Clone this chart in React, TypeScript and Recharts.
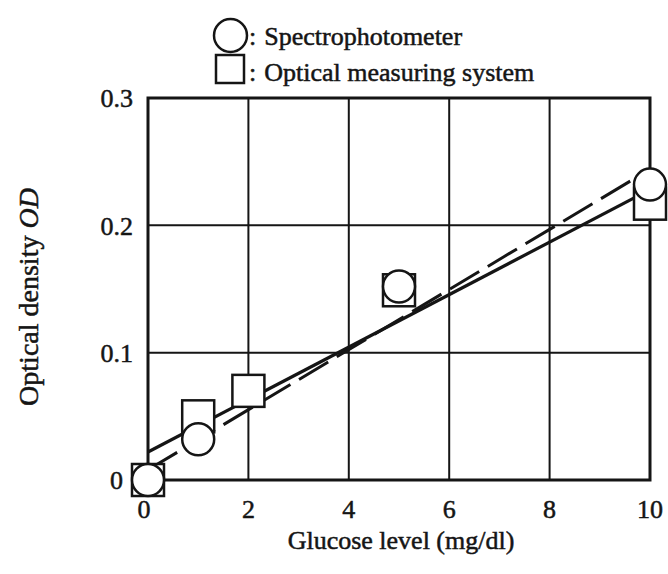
import React from 'react';
import {
  ComposedChart, Line, Scatter, XAxis, YAxis, CartesianGrid, ReferenceArea, Legend,
} from 'recharts';

// ---- data ----
const spectroGlucose = [0, 1, 5, 10];
const spectroOD = [0, 0.032, 0.152, 0.232];
const opticalGlucose = [0, 1, 2, 5, 10];
const opticalOD = [0, 0.05, 0.07, 0.149, 0.217];
const fitGlucose = [0, 10];
const solidFitOD = [0.022, 0.228];
const dashedFitOD = [0.008, 0.244];
const xTicks = [0, 2, 4, 6, 8, 10];
const yTicks = [0, 0.1, 0.2, 0.3];
const legendLabels = ['Spectrophotometer', 'Optical measuring system'];
const xTitle = 'Glucose level (mg/dl)';
const yTitle = 'Optical density ';
const yTitleItalic = 'OD';

const spectroData = spectroGlucose.map((x, i) => ({ x, y: spectroOD[i] }));
const opticalData = opticalGlucose.map((x, i) => ({ x, y: opticalOD[i] }));
const solidFit = fitGlucose.map((x, i) => ({ x, y: solidFitOD[i] }));
const dashedFit = fitGlucose.map((x, i) => ({ x, y: dashedFitOD[i] }));

const FONT = '"Liberation Serif", "Times New Roman", serif';
const INK = '#151515';
const TXT = { stroke: INK, strokeWidth: 0.5 };

const CircleMark = (p: any) => (
  <circle cx={p.cx} cy={p.cy} r={16} fill="#fff" stroke={INK} strokeWidth={2.5} />
);
const SquareMark = (p: any) => (
  <rect x={p.cx - 16} y={p.cy - 16} width={32} height={32} fill="#fff" stroke={INK} strokeWidth={2.5} />
);

const YTick = (p: any) => {
  const v = p.payload.value;
  const label = v === 0 ? '0' : v.toFixed(1);
  return (
    <text x={p.x + (v === 0 ? -10 : 0)} y={p.y} dy="0.355em" textAnchor="end" fontFamily={FONT} fontSize={26} fill={INK} {...TXT}>
      {label}
    </text>
  );
};

const XTick = (p: any) => {
  const v = p.payload.value;
  return (
    <text x={p.x + (v === 0 ? -4 : 0)} y={p.y} dy="0.71em" textAnchor="middle" fontFamily={FONT} fontSize={26} fill={INK} {...TXT}>
      {String(v)}
    </text>
  );
};

const LegendContent = () => (
  <svg width={360} height={84} style={{ display: 'block', overflow: 'visible' }}>
    <circle cx={22.5} cy={27.5} r={16.5} fill="#fff" stroke={INK} strokeWidth={2.5} />
    <rect x={8} y={47} width={28} height={28} fill="#fff" stroke={INK} strokeWidth={2.5} />
    <text x={41} y={37} fontFamily={FONT} fontSize={26} fill={INK} {...TXT}>
      <tspan>:</tspan><tspan dx={8}>{legendLabels[0]}</tspan>
    </text>
    <text x={41} y={73} fontFamily={FONT} fontSize={26} fill={INK} {...TXT}>
      <tspan>:</tspan><tspan dx={8}>{legendLabels[1]}</tspan>
    </text>
  </svg>
);

const XTitle = (props: any) => {
  const vb = props.viewBox || { x: 148, y: 480, width: 502 };
  return (
    <text x={vb.x + vb.width / 2 + 2} y={vb.y + 69} textAnchor="middle" fontFamily={FONT} fontSize={26} fill={INK} {...TXT}>
      {xTitle}
    </text>
  );
};

const YTitle = (props: any) => {
  const vb = props.viewBox || { x: 0, y: 98, width: 148, height: 382 };
  const cx = vb.x + 38;
  const cy = vb.y + vb.height / 2 + 8;
  return (
    <text x={cx} y={cy} transform={`rotate(-90, ${cx}, ${cy})`} textAnchor="middle" fontFamily={FONT} fontSize={28} fill={INK} {...TXT}>
      {yTitle}<tspan fontStyle="italic">{yTitleItalic}</tspan>
    </text>
  );
};

export default function App() {
  return (
    <div style={{ width: 668, height: 574, background: '#fff' }}>
      <style>{'html,body{margin:0;padding:0;overflow:hidden;}'}</style>
      <ComposedChart width={668} height={574} margin={{ top: 98, right: 18, left: 0, bottom: 0 }}>
        <CartesianGrid stroke={INK} strokeWidth={2} />
        <XAxis
          type="number"
          dataKey="x"
          domain={[0, 10]}
          ticks={xTicks}
          height={94}
          axisLine={false}
          tickLine={false}
          tickSize={0}
          tickMargin={20}
          tick={<XTick />}
          label={<XTitle />}
        />
        <YAxis
          type="number"
          dataKey="y"
          domain={[0, 0.3]}
          ticks={yTicks}
          width={148}
          axisLine={false}
          tickLine={false}
          tickSize={0}
          tickMargin={15}
          tick={<YTick />}
          label={<YTitle />}
        />
        <ReferenceArea x1={0} x2={10} y1={0} y2={0.3} fill="none" fillOpacity={0} stroke={INK} strokeWidth={3} ifOverflow="visible" />
        <Line data={solidFit} dataKey="y" stroke={INK} strokeWidth={3.2} dot={false} isAnimationActive={false} legendType="none" />
        <Line data={dashedFit} dataKey="y" stroke={INK} strokeWidth={3} strokeDasharray="34 10" dot={false} isAnimationActive={false} legendType="none" />
        <Scatter data={opticalData} dataKey="y" shape={SquareMark} isAnimationActive={false} />
        <Scatter data={spectroData} dataKey="y" shape={CircleMark} isAnimationActive={false} />
        <Legend
          layout="vertical"
          align="center"
          verticalAlign="middle"
          content={<LegendContent />}
          wrapperStyle={{ position: 'absolute', top: 8, left: 208, width: 360, height: 84 }}
        />
      </ComposedChart>
    </div>
  );
}
